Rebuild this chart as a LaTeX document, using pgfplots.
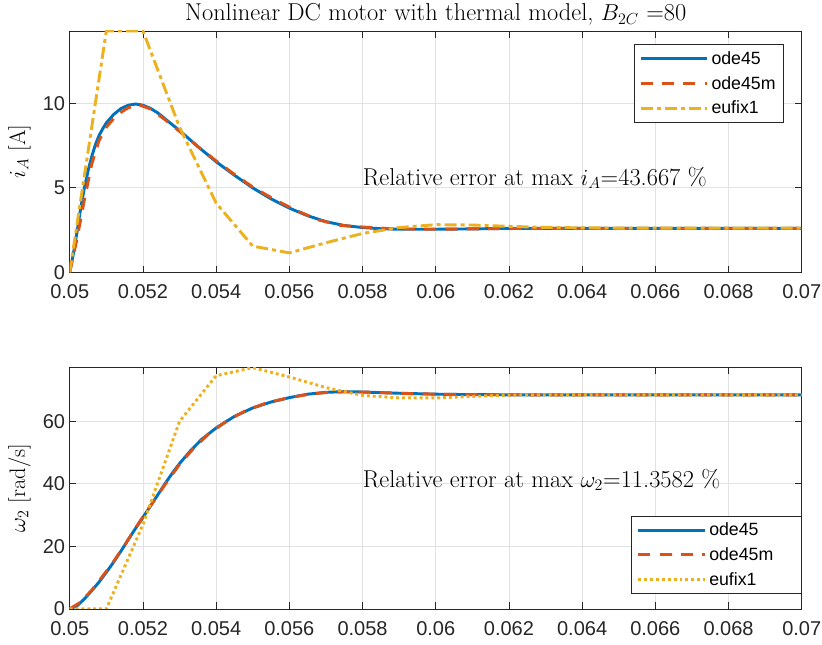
\documentclass[border=0pt]{standalone}
\usepackage{fontspec}
\usepackage{pgfplots}
\pgfplotsset{compat=1.18}
\newfontfamily\arial{Liberation Sans}
\definecolor{mblue}{rgb}{0,0.447,0.741}
\definecolor{mred}{rgb}{0.85,0.325,0.098}
\definecolor{myel}{rgb}{0.929,0.694,0.125}
\definecolor{maxis}{rgb}{0.15,0.15,0.15}
\definecolor{mgrid}{HTML}{E2E2E2}

\pgfplotsset{
  mstyle/.style={
    scale only axis, width=549pt, height=181pt,
    xmin=0.05, xmax=0.07,
    xtick={0.05,0.052,0.054,0.056,0.058,0.06,0.062,0.064,0.066,0.068,0.07},
    xticklabels={0.05,0.052,0.054,0.056,0.058,0.06,0.062,0.064,0.066,0.068,0.07},
    scaled x ticks=false,
    grid=major, major grid style={mgrid, line width=0.6pt},
    axis line style={maxis, line width=0.6pt},
    every tick/.style={maxis, line width=0.6pt},
    major tick length=5pt,
    tick label style={font=\arial\fontsize{15}{18}\selectfont, text=maxis},
    xticklabel style={yshift=-6pt},
    label style={font=\fontsize{16.8}{20}\selectfont},
    ylabel style={at={(axis description cs:-0.047,0.5)}, anchor=south},
    legend cell align=left,
    legend style={font=\arial\fontsize{13.3}{16}\selectfont, draw=maxis, line width=0.6pt,
      fill=white, inner xsep=4pt, inner ysep=3pt, row sep=3.5pt},
    legend image code/.code={\draw[##1] plot coordinates {(0pt,0pt) (25pt,0pt) (50pt,0pt)};},
  },
  s1/.style={mblue, line width=2.2pt},
  s2/.style={mred, line width=2.2pt, dash pattern=on 9pt off 7pt},
}

\begin{document}
\begin{tikzpicture}
% current
\begin{axis}[mstyle, at={(0,0)}, anchor=south west,
  ymin=0, ymax=14.3, ytick={0,5,10}, yticklabels={0,5,10},
  ylabel={$i_A$ [A]},
  title={Nonlinear DC motor with thermal model, $B_{2C}$ =80},
  title style={font=\fontsize{18.3}{22}\selectfont, at={(0.5,1)}, anchor=base, yshift=1.5pt},
  legend style={at={(rel axis cs:1,1)}, anchor=north east, xshift=-13.3pt, yshift=-10pt},
]
\addplot[s1] coordinates {
(0.0500,0) (0.0501,1.1) (0.0502,2.4) (0.0503,3.8) (0.0504,5.0) (0.0505,6.0)
(0.0506,6.85) (0.0507,7.55) (0.0508,8.1) (0.0509,8.5) (0.0510,8.85) (0.0512,9.35)
(0.0514,9.7) (0.0516,9.9) (0.0518,9.97) (0.0520,9.9) (0.0522,9.72) (0.0524,9.45)
(0.0526,9.1) (0.0528,8.75) (0.0530,8.4) (0.0535,7.45) (0.0540,6.55) (0.0545,5.75)
(0.0550,5.0) (0.0555,4.35) (0.0560,3.8) (0.0565,3.35) (0.0570,3.0) (0.0575,2.77)
(0.0580,2.65) (0.0585,2.58) (0.0590,2.55) (0.0600,2.55) (0.0610,2.57) (0.0620,2.6)
(0.0700,2.6)};
\addplot[s2] coordinates {
(0.0500,0) (0.0502,2.0) (0.0504,4.3) (0.0506,6.4) (0.0508,7.8) (0.0510,8.6)
(0.0513,9.35) (0.0516,9.75) (0.0519,9.92) (0.0522,9.68) (0.0526,9.05) (0.0530,8.35)
(0.0535,7.45) (0.0540,6.6) (0.0545,5.8) (0.0550,5.05) (0.0556,4.3) (0.0562,3.65)
(0.0568,3.1) (0.0574,2.78) (0.0580,2.68) (0.0588,2.58) (0.0598,2.55) (0.0610,2.57)
(0.0625,2.6) (0.0700,2.6)};
\addplot[myel, line width=2.2pt, dash pattern=on 9pt off 3pt on 3pt off 3pt] coordinates {
(0.050,0) (0.051,14.3) (0.052,14.3) (0.053,8.6) (0.054,4.1) (0.055,1.55)
(0.056,1.15) (0.057,1.75) (0.058,2.3) (0.059,2.65) (0.060,2.82) (0.061,2.8)
(0.062,2.72) (0.063,2.66) (0.064,2.63) (0.065,2.62) (0.066,2.62) (0.067,2.62)
(0.068,2.62) (0.069,2.62) (0.070,2.62)};
\legend{ode45,ode45m,eufix1}
\node[anchor=west, inner sep=0pt, font=\fontsize{18.3}{22}\selectfont] at (axis cs:0.058,5.6)
  {Relative error at max $i_A$=43.667 \%};
\end{axis}

% speed
\begin{axis}[mstyle, at={(0,-252.5pt)}, anchor=south west,
  ymin=0, ymax=77.2, ytick={0,20,40,60}, yticklabels={0,20,40,60},
  ylabel={$\omega_2$ [rad/s]},
  legend style={at={(rel axis cs:1,0)}, anchor=south east, xshift=0pt, yshift=11pt},
]
\addplot[s1] coordinates {
(0.0500,0) (0.0502,1.0) (0.0504,3.2) (0.0506,5.8) (0.0508,8.6) (0.0510,11.7)
(0.0512,15.0) (0.0514,18.5) (0.0516,22.2) (0.0518,25.8) (0.0520,29.3) (0.0522,32.8)
(0.0524,36.4) (0.0526,40.0) (0.0528,43.4) (0.0530,46.5) (0.0533,50.6) (0.0536,54.2)
(0.0540,57.9) (0.0545,61.6) (0.0550,64.3) (0.0555,66.2) (0.0560,67.6) (0.0565,68.7)
(0.0570,69.3) (0.0575,69.5) (0.0580,69.4) (0.0590,69.0) (0.0600,68.7) (0.0610,68.55)
(0.0620,68.5) (0.0700,68.5)};
\addplot[s2] coordinates {
(0.0500,0) (0.0503,2.2) (0.0506,6.0) (0.0509,10.5) (0.0512,15.2) (0.0515,20.4)
(0.0518,25.9) (0.0521,31.2) (0.0524,36.3) (0.0527,41.4) (0.0530,46.2) (0.0534,51.6)
(0.0538,56.0) (0.0543,60.2) (0.0548,63.4) (0.0554,66.0) (0.0560,67.6) (0.0566,68.8)
(0.0572,69.4) (0.0580,69.4) (0.0592,68.9) (0.0606,68.6) (0.0625,68.5) (0.0700,68.5)};
\addplot[myel, line width=2.2pt, dash pattern=on 2.2pt off 2.2pt] coordinates {
(0.050,0) (0.051,0) (0.052,27) (0.053,60) (0.054,74.6) (0.055,77.2)
(0.056,74.2) (0.057,70.8) (0.058,68.3) (0.059,67.5) (0.060,67.5) (0.061,68.0)
(0.062,68.4) (0.063,68.5) (0.064,68.5) (0.065,68.5) (0.066,68.5) (0.067,68.5)
(0.068,68.5) (0.069,68.5) (0.070,68.5)};
\legend{ode45,ode45m\rule{15pt}{0pt},eufix1}
\node[anchor=west, inner sep=0pt, font=\fontsize{18.3}{22}\selectfont] at (axis cs:0.058,41.3)
  {Relative error at max $\omega_2$=11.3582 \%};
\end{axis}
\pgfresetboundingbox
\path (-52.3pt,-278.8pt) rectangle (564.2pt,204.2pt);
\end{tikzpicture}
\end{document}
